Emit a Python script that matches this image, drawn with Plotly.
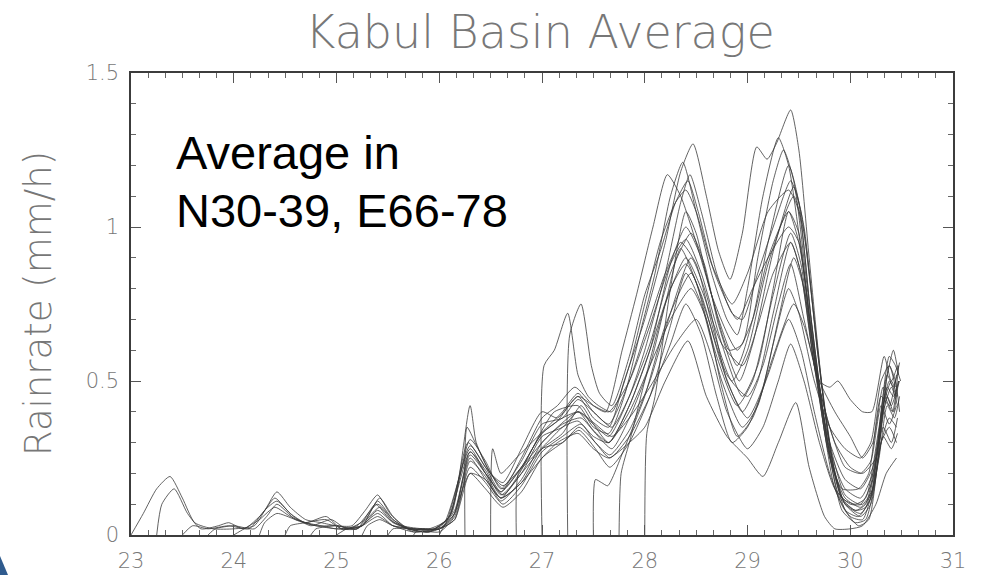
import plotly.graph_objects as go

# Lagged-ensemble members, one every 6 h from day 23.00 to day 28.00.
# Each list holds [day, rainrate (mm/h)] pairs for the basin-average series.
m_2300 = [[23.00, 0], [23.12, 0.07], [23.25, 0.15], [23.38, 0.19], [23.5, 0.12], [23.62, 0.04], [23.8, 0.02],
          [24.0, 0.02], [24.2, 0.03], [24.32, 0.09], [24.42, 0.14], [24.55, 0.09], [24.7, 0.05], [24.85, 0.04],
          [25.0, 0.03], [25.15, 0.03], [25.28, 0.08], [25.4, 0.13], [25.52, 0.07], [25.65, 0.03], [25.85, 0.02],
          [26.0, 0.02], [26.12, 0.05], [26.3, 0.2], [26.45, 0.18], [26.6, 0.12], [26.8, 0.17], [27.0, 0.25],
          [27.15, 0.3], [27.35, 0.33], [27.5, 0.28], [27.65, 0.25], [27.85, 0.3], [28.0, 0.35], [28.2, 0.5],
          [28.42, 0.63], [28.6, 0.45], [28.8, 0.32], [29.0, 0.25], [29.15, 0.19], [29.3, 0.3], [29.47, 0.43],
          [29.6, 0.22], [29.75, 0.06], [29.85, 0.02], [30.0, 0.02], [30.12, 0.03], [30.25, 0.1], [30.35, 0.2],
          [30.45, 0.25]]
m_2306 = [[23.25, 0], [23.3, 0.1], [23.42, 0.15], [23.55, 0.07], [23.68, 0.02], [23.85, 0.03], [23.95, 0.04],
          [24.1, 0.02], [24.28, 0.07], [24.4, 0.12], [24.55, 0.07], [24.7, 0.04], [24.9, 0.06], [25.05, 0.02],
          [25.25, 0.03], [25.4, 0.11], [25.55, 0.05], [25.7, 0.02], [25.9, 0.01], [26.05, 0.03], [26.3, 0.29],
          [26.45, 0.22], [26.6, 0.14], [26.8, 0.22], [27.0, 0.33], [27.15, 0.37], [27.35, 0.45], [27.5, 0.38],
          [27.65, 0.35], [27.8, 0.5], [28.0, 0.7], [28.2, 0.95], [28.35, 1.18], [28.47, 1.27], [28.6, 1.1],
          [28.72, 0.92], [28.83, 0.83], [28.95, 0.98], [29.09, 1.26], [29.19, 1.22], [29.28, 1.27], [29.42, 1.38],
          [29.5, 1.25], [29.6, 0.9], [29.72, 0.5], [29.85, 0.2], [29.95, 0.08], [30.08, 0.03], [30.18, 0.05],
          [30.3, 0.35], [30.38, 0.55], [30.44, 0.5], [30.48, 0.4]]
m_2312 = [[23.5, 0], [23.6, 0.03], [23.75, 0.02], [23.95, 0.03], [24.15, 0.02], [24.3, 0.08], [24.42, 0.11],
          [24.58, 0.06], [24.75, 0.03], [24.95, 0.05], [25.1, 0.02], [25.28, 0.05], [25.42, 0.12], [25.55, 0.06],
          [25.7, 0.02], [25.9, 0.01], [26.05, 0.04], [26.3, 0.28], [26.45, 0.2], [26.6, 0.12], [26.78, 0.2],
          [27.0, 0.34], [27.12, 0.4], [27.35, 0.42], [27.5, 0.35], [27.65, 0.33], [27.8, 0.45], [27.95, 0.65],
          [28.1, 0.85], [28.25, 1.1], [28.37, 1.21], [28.5, 1.05], [28.65, 0.85], [28.8, 0.7], [28.9, 0.65],
          [29.0, 0.8], [29.15, 1.1], [29.3, 1.29], [29.4, 1.2], [29.55, 0.85], [29.7, 0.45], [29.85, 0.15],
          [30.0, 0.06], [30.12, 0.05], [30.25, 0.2], [30.35, 0.5], [30.42, 0.6], [30.47, 0.52]]
m_2318 = [[23.75, 0], [23.82, 0.02], [24.0, 0.03], [24.2, 0.02], [24.32, 0.06], [24.42, 0.1], [24.6, 0.05],
          [24.8, 0.03], [25.0, 0.03], [25.2, 0.02], [25.38, 0.1], [25.52, 0.05], [25.7, 0.02], [25.9, 0.02],
          [26.08, 0.05], [26.3, 0.27], [26.45, 0.2], [26.6, 0.14], [26.8, 0.25], [27.0, 0.38], [27.15, 0.42],
          [27.32, 0.48], [27.5, 0.42], [27.62, 0.4], [27.78, 0.6], [27.92, 0.78], [28.08, 1.0], [28.22, 1.17],
          [28.35, 1.1], [28.5, 0.95], [28.65, 0.78], [28.82, 0.6], [28.95, 0.62], [29.1, 0.9], [29.25, 1.15],
          [29.35, 1.25], [29.45, 1.15], [29.6, 0.75], [29.75, 0.35], [29.9, 0.12], [30.05, 0.08], [30.15, 0.09],
          [30.28, 0.3], [30.36, 0.45], [30.42, 0.4], [30.47, 0.5]]
m_2400 = [[24.0, 0], [24.1, 0.02], [24.25, 0.05], [24.4, 0.09], [24.55, 0.06], [24.7, 0.04], [24.85, 0.03],
          [25.0, 0.02], [25.2, 0.03], [25.4, 0.1], [25.55, 0.05], [25.75, 0.01], [25.95, 0.02], [26.1, 0.06],
          [26.28, 0.3], [26.45, 0.22], [26.62, 0.16], [26.8, 0.22], [27.0, 0.3], [27.15, 0.35], [27.35, 0.4],
          [27.5, 0.36], [27.65, 0.32], [27.85, 0.45], [28.0, 0.6], [28.2, 0.85], [28.35, 1.08], [28.44, 1.17],
          [28.55, 1.05], [28.7, 0.85], [28.85, 0.72], [28.95, 0.7], [29.1, 0.85], [29.25, 1.0], [29.42, 1.15],
          [29.52, 1.05], [29.65, 0.7], [29.8, 0.3], [29.95, 0.13], [30.1, 0.1], [30.22, 0.18], [30.32, 0.4],
          [30.4, 0.48], [30.46, 0.42]]
m_2406 = [[24.25, 0], [24.3, 0.04], [24.42, 0.07], [24.6, 0.05], [24.8, 0.03], [25.0, 0.02], [25.2, 0.02],
          [25.42, 0.09], [25.56, 0.04], [25.75, 0.02], [26.0, 0.02], [26.15, 0.08], [26.3, 0.26], [26.45, 0.2],
          [26.62, 0.13], [26.8, 0.2], [27.0, 0.28], [27.2, 0.33], [27.38, 0.42], [27.5, 0.36], [27.65, 0.3],
          [27.85, 0.42], [28.05, 0.6], [28.25, 0.88], [28.4, 1.0], [28.55, 0.9], [28.7, 0.72], [28.9, 0.55],
          [29.05, 0.7], [29.2, 0.95], [29.4, 1.2], [29.5, 1.08], [29.62, 0.7], [29.78, 0.3], [29.92, 0.08],
          [30.05, 0.04], [30.15, 0.05], [30.28, 0.25], [30.36, 0.42], [30.43, 0.38], [30.48, 0.45]]
m_2412 = [[24.5, 0], [24.55, 0.03], [24.7, 0.04], [24.9, 0.05], [25.05, 0.02], [25.25, 0.03], [25.4, 0.08],
          [25.55, 0.04], [25.7, 0.02], [25.9, 0.01], [26.1, 0.06], [26.3, 0.31], [26.45, 0.24], [26.6, 0.15],
          [26.8, 0.24], [27.0, 0.36], [27.2, 0.38], [27.35, 0.44], [27.5, 0.4], [27.68, 0.35], [27.85, 0.45],
          [28.05, 0.62], [28.25, 0.85], [28.45, 0.98], [28.58, 0.88], [28.72, 0.68], [28.92, 0.5], [29.05, 0.62],
          [29.25, 0.92], [29.45, 1.13], [29.55, 1.0], [29.68, 0.6], [29.82, 0.25], [29.95, 0.1], [30.1, 0.06],
          [30.2, 0.1], [30.3, 0.3], [30.38, 0.38], [30.45, 0.35]]
m_2418 = [[24.75, 0], [24.8, 0.02], [25.0, 0.03], [25.2, 0.02], [25.4, 0.07], [25.55, 0.03], [25.75, 0.02],
          [25.95, 0.02], [26.12, 0.07], [26.3, 0.42], [26.36, 0.3], [26.5, 0.2], [26.62, 0.17], [26.8, 0.28],
          [27.0, 0.4], [27.15, 0.38], [27.35, 0.45], [27.5, 0.42], [27.65, 0.4], [27.85, 0.5], [28.05, 0.68],
          [28.25, 0.88], [28.4, 0.96], [28.55, 0.85], [28.75, 0.62], [28.95, 0.45], [29.1, 0.55], [29.25, 0.8],
          [29.4, 1.05], [29.5, 0.95], [29.65, 0.6], [29.8, 0.28], [29.95, 0.15], [30.1, 0.12], [30.22, 0.2],
          [30.32, 0.35], [30.4, 0.3], [30.46, 0.38]]
m_2500 = [[25.0, 0], [25.1, 0.02], [25.25, 0.03], [25.4, 0.06], [25.55, 0.03], [25.75, 0.01], [26.0, 0.02],
          [26.15, 0.05], [26.3, 0.24], [26.45, 0.19], [26.6, 0.11], [26.8, 0.18], [27.0, 0.3], [27.2, 0.36],
          [27.38, 0.38], [27.52, 0.33], [27.68, 0.28], [27.85, 0.38], [28.05, 0.55], [28.2, 0.75], [28.35, 0.93],
          [28.5, 0.82], [28.7, 0.58], [28.9, 0.42], [29.05, 0.5], [29.25, 0.78], [29.42, 0.98], [29.52, 0.88],
          [29.65, 0.55], [29.8, 0.3], [29.95, 0.18], [30.1, 0.15], [30.22, 0.22], [30.32, 0.42], [30.4, 0.5],
          [30.46, 0.45]]
m_2506 = [[25.25, 0], [25.3, 0.03], [25.42, 0.05], [25.55, 0.03], [25.75, 0.02], [26.0, 0.01], [26.15, 0.06],
          [26.3, 0.22], [26.45, 0.17], [26.62, 0.1], [26.8, 0.16], [27.0, 0.27], [27.2, 0.32], [27.38, 0.36],
          [27.52, 0.3], [27.66, 0.26], [27.85, 0.34], [28.05, 0.5], [28.25, 0.72], [28.45, 0.9], [28.6, 0.78],
          [28.8, 0.5], [29.0, 0.38], [29.15, 0.48], [29.3, 0.7], [29.45, 0.9], [29.55, 0.8], [29.7, 0.48],
          [29.85, 0.3], [30.0, 0.22], [30.12, 0.2], [30.25, 0.25], [30.33, 0.45], [30.41, 0.4], [30.47, 0.55]]
m_2512 = [[25.5, 0], [25.55, 0.02], [25.75, 0.02], [26.0, 0.02], [26.15, 0.05], [26.3, 0.2], [26.45, 0.15],
          [26.62, 0.09], [26.8, 0.14], [27.0, 0.25], [27.2, 0.3], [27.36, 0.34], [27.52, 0.28], [27.66, 0.22],
          [27.85, 0.3], [28.05, 0.45], [28.25, 0.68], [28.4, 0.85], [28.55, 0.75], [28.75, 0.5], [28.95, 0.35],
          [29.1, 0.42], [29.25, 0.62], [29.4, 0.8], [29.5, 0.72], [29.65, 0.5], [29.8, 0.35], [29.95, 0.28],
          [30.1, 0.25], [30.2, 0.3], [30.3, 0.5], [30.38, 0.55], [30.44, 0.48]]
m_2518 = [[25.75, 0], [25.8, 0.02], [26.0, 0.02], [26.15, 0.07], [26.3, 0.27], [26.45, 0.21], [26.6, 0.13],
          [26.8, 0.2], [27.0, 0.32], [27.2, 0.35], [27.35, 0.4], [27.5, 0.34], [27.65, 0.3], [27.85, 0.4],
          [28.05, 0.55], [28.25, 0.7], [28.45, 0.8], [28.6, 0.7], [28.75, 0.48], [28.9, 0.32], [29.05, 0.38],
          [29.25, 0.58], [29.45, 0.75], [29.55, 0.68], [29.7, 0.5], [29.85, 0.4], [30.0, 0.32], [30.12, 0.25],
          [30.22, 0.3], [30.32, 0.48], [30.4, 0.42], [30.47, 0.5]]
m_2600 = [[26.0, 0], [26.05, 0.03], [26.15, 0.07], [26.3, 0.25], [26.45, 0.18], [26.6, 0.12], [26.8, 0.17],
          [27.0, 0.28], [27.2, 0.3], [27.36, 0.35], [27.52, 0.3], [27.66, 0.25], [27.85, 0.32], [28.05, 0.45],
          [28.25, 0.62], [28.4, 0.75], [28.55, 0.65], [28.7, 0.45], [28.85, 0.3], [29.0, 0.35], [29.2, 0.52],
          [29.4, 0.7], [29.52, 0.6], [29.65, 0.4], [29.8, 0.2], [29.95, 0.08], [30.08, 0.06], [30.2, 0.12],
          [30.3, 0.3], [30.38, 0.35], [30.45, 0.3]]
m_2606 = [[26.25, 0], [26.27, 0.35], [26.35, 0.3], [26.5, 0.2], [26.62, 0.15], [26.8, 0.22], [27.0, 0.33],
          [27.2, 0.38], [27.36, 0.4], [27.52, 0.36], [27.68, 0.32], [27.85, 0.38], [28.05, 0.48], [28.3, 0.62],
          [28.5, 0.7], [28.65, 0.58], [28.8, 0.4], [29.0, 0.28], [29.15, 0.35], [29.3, 0.5], [29.42, 0.62],
          [29.55, 0.5], [29.7, 0.3], [29.85, 0.15], [30.0, 0.1], [30.12, 0.1], [30.22, 0.15], [30.32, 0.32],
          [30.4, 0.28], [30.46, 0.33]]
m_2612 = [[26.5, 0], [26.52, 0.28], [26.6, 0.2], [26.75, 0.25], [26.9, 0.3], [27.05, 0.35], [27.2, 0.4],
          [27.35, 0.46], [27.5, 0.4], [27.65, 0.36], [27.85, 0.5], [28.0, 0.65], [28.2, 0.85], [28.35, 0.95],
          [28.5, 0.88], [28.68, 0.65], [28.85, 0.5], [29.0, 0.6], [29.2, 0.88], [29.45, 1.1], [29.55, 0.98],
          [29.68, 0.6], [29.82, 0.25], [29.95, 0.1], [30.1, 0.07], [30.2, 0.12], [30.3, 0.4], [30.38, 0.58],
          [30.44, 0.55], [30.49, 0.5]]
m_2618 = [[26.75, 0], [26.77, 0.2], [26.9, 0.25], [27.05, 0.3], [27.2, 0.35], [27.35, 0.37], [27.5, 0.32],
          [27.65, 0.3], [27.85, 0.42], [28.05, 0.6], [28.25, 0.8], [28.4, 0.88], [28.55, 0.78], [28.75, 0.55],
          [28.95, 0.4], [29.1, 0.5], [29.25, 0.72], [29.42, 0.95], [29.52, 0.85], [29.65, 0.55], [29.8, 0.25],
          [29.95, 0.12], [30.1, 0.09], [30.2, 0.13], [30.3, 0.38], [30.38, 0.5], [30.45, 0.45]]
m_2700 = [[27.0, 0], [27.02, 0.55], [27.12, 0.6], [27.25, 0.72], [27.35, 0.52], [27.45, 0.45], [27.55, 0.42],
          [27.68, 0.4], [27.85, 0.55], [28.0, 0.75], [28.15, 0.95], [28.3, 1.08], [28.4, 1.12], [28.5, 1.05],
          [28.65, 0.88], [28.85, 0.75], [29.0, 0.85], [29.2, 1.05], [29.4, 1.12], [29.5, 1.05], [29.62, 0.7],
          [29.78, 0.3], [29.92, 0.12], [30.05, 0.1], [30.15, 0.12], [30.28, 0.35], [30.36, 0.52], [30.42, 0.48],
          [30.48, 0.56]]
m_2706 = [[27.25, 0], [27.27, 0.65], [27.38, 0.75], [27.48, 0.55], [27.56, 0.46], [27.68, 0.42], [27.85, 0.58],
          [28.0, 0.78], [28.15, 0.92], [28.3, 1.08], [28.42, 1.15], [28.52, 1.05], [28.68, 0.85], [28.9, 0.7],
          [29.05, 0.8], [29.2, 0.9], [29.4, 1.0], [29.5, 0.95], [29.62, 0.65], [29.78, 0.28], [29.92, 0.15],
          [30.08, 0.15], [30.18, 0.2], [30.3, 0.45], [30.38, 0.42], [30.45, 0.52]]
m_2712 = [[27.5, 0], [27.52, 0.18], [27.58, 0.17], [27.64, 0.16], [27.8, 0.28], [28.0, 0.45], [28.2, 0.68],
          [28.45, 0.85], [28.6, 0.72], [28.8, 0.52], [29.0, 0.45], [29.15, 0.55], [29.3, 0.75], [29.42, 0.88],
          [29.55, 0.7], [29.7, 0.5], [29.8, 0.48], [29.88, 0.5], [30.0, 0.44], [30.12, 0.4], [30.21, 0.4],
          [30.33, 0.58], [30.4, 0.5], [30.46, 0.55]]
m_2718 = [[27.75, 0], [27.77, 0.2], [27.85, 0.3], [28.0, 0.5], [28.2, 0.75], [28.4, 0.9], [28.55, 0.8],
          [28.75, 0.62], [28.95, 0.55], [29.1, 0.68], [29.25, 0.85], [29.42, 0.95], [29.52, 0.85], [29.65, 0.55],
          [29.8, 0.35], [29.95, 0.22], [30.1, 0.2], [30.2, 0.24], [30.3, 0.42], [30.38, 0.36], [30.45, 0.42]]
m_2800 = [[28.0, 0], [28.02, 0.33], [28.1, 0.45], [28.25, 0.8], [28.4, 1.05], [28.5, 0.98], [28.65, 0.78],
          [28.9, 0.6], [29.05, 0.7], [29.2, 0.9], [29.4, 1.05], [29.5, 0.98], [29.62, 0.65], [29.78, 0.3],
          [29.92, 0.12], [30.05, 0.08], [30.15, 0.1], [30.28, 0.32], [30.36, 0.48], [30.42, 0.45], [30.48, 0.5]]

members = [m_2300, m_2306, m_2312, m_2318, m_2400, m_2406, m_2412, m_2418, m_2500, m_2506, m_2512,
           m_2518, m_2600, m_2606, m_2612, m_2618, m_2700, m_2706, m_2712, m_2718, m_2800]

title_text = "Kabul Basin Average"
y_title = "Rainrate (mm/h)"
note_lines = ["Average in", "N30-39, E66-78"]

W, H = 981, 575
L, R, T, B = 131, 28, 73, 40
pw, ph = W - L - R, H - T - B

def px_to_paper(px, py):
    return (px - L) / pw, (H - B - py) / ph

fig = go.Figure()
for m in members:
    fig.add_trace(go.Scatter(
        x=[p[0] for p in m], y=[p[1] for p in m], mode="lines",
        line=dict(color="rgba(55,55,55,0.78)", width=1, shape="spline", smoothing=0.6),
        showlegend=False, hoverinfo="skip"))

thin = dict(family="DejaVu Sans", color="#777777", weight=200)

# Minor ticks every 4 hours on the day axis and every 0.1 mm/h on the rate axis
x_minor = [23 + k / 6 for k in range(0, 49) if k % 6]
y_minor = [k / 10 for k in range(0, 16) if k % 5]

fig.update_xaxes(
    range=[23, 31], tick0=23, dtick=1,
    showline=True, linecolor="#3c3c3c", linewidth=1.5, mirror="allticks",
    ticks="inside", ticklen=10, tickwidth=1, tickcolor="#555555",
    showgrid=False, zeroline=False, ticklabelstandoff=6,
    tickfont=dict(size=21, **thin),
    minor=dict(ticks="inside", tickmode="array", tickvals=x_minor, ticklen=5, tickwidth=1,
               tickcolor="#666666", showgrid=False),
)
fig.update_yaxes(
    range=[0, 1.5], tick0=0, dtick=0.5,
    showline=True, linecolor="#3c3c3c", linewidth=1.5, mirror="allticks",
    ticks="inside", ticklen=10, tickwidth=1, tickcolor="#555555",
    showgrid=False, zeroline=False, ticklabelstandoff=6,
    tickfont=dict(size=21, **thin),
    minor=dict(ticks="inside", tickmode="array", tickvals=y_minor, ticklen=5, tickwidth=1,
               tickcolor="#666666", showgrid=False),
)

ax, _ = px_to_paper(38, 0)
annotations = [
    dict(text=y_title, xref="paper", yref="paper", x=ax, y=0.5, xanchor="center", yanchor="middle",
         textangle=-90, showarrow=False, font=dict(size=37, **thin)),
]
for i, line in enumerate(note_lines):
    nx, ny = px_to_paper(174, 152 + 58 * i)
    annotations.append(dict(text=line, xref="paper", yref="paper", x=nx, y=ny, xanchor="left",
                            yanchor="middle", showarrow=False,
                            font=dict(family="Liberation Sans, Arial", size=47, color="#000")))

# Slide decoration peeking in at the lower-left corner
c0 = px_to_paper(0, 556)
c1 = px_to_paper(8, 575)
c2 = px_to_paper(0, 575)
shapes = [dict(type="path", xref="paper", yref="paper",
               path=f"M {c0[0]} {c0[1]} L {c1[0]} {c1[1]} L {c2[0]} {c2[1]} Z",
               fillcolor="#2f5b8e", line=dict(width=0), layer="above")]

fig.update_layout(
    width=W, height=H, margin=dict(l=L, r=R, t=T, b=B, autoexpand=False),
    paper_bgcolor="white", plot_bgcolor="white",
    title=dict(text=title_text, x=540 / W, xanchor="center", y=1 - 32 / H, yanchor="middle",
               font=dict(size=46, **thin)),
    annotations=annotations, shapes=shapes,
)

fig.write_html("out.html")
